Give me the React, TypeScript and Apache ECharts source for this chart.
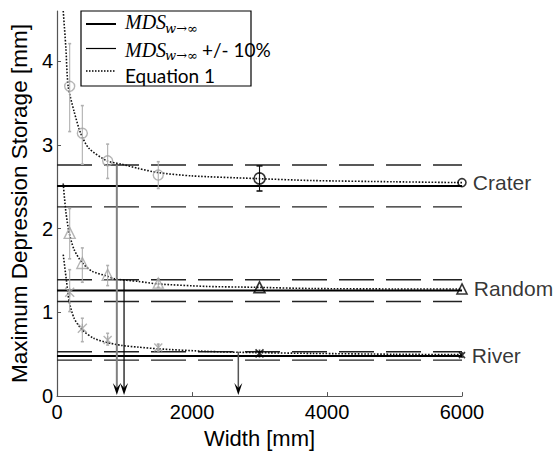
import React, { useEffect, useRef } from "react";
import * as echarts from "echarts";

// ---- data ----
const widths = [187.5, 375, 750, 1500, 3000, 6000];

const craterMean = [3.7, 3.14, 2.81, 2.64, 2.6, 2.55];
const craterLow = [3.16, 2.77, 2.6, 2.48, 2.45, null];
const craterHigh = [4.21, 3.47, 3.01, 2.8, 2.75, null];

const randomMean = [1.95, 1.59, 1.45, 1.35, 1.3, 1.28];
const randomLow = [1.64, 1.36, 1.32, 1.3, null, null];
const randomHigh = [2.24, 1.77, 1.56, 1.4, null, null];

const riverMean = [1.24, 0.81, 0.67, 0.58, 0.51, 0.49];
const riverLow = [1.01, 0.65, 0.61, 0.54, null, null];
const riverHigh = [1.51, 0.93, 0.75, 0.62, null, null];

const groupNames = ["Crater", "Random", "River"];
const mdsInf = [2.51, 1.26, 0.48];
const mdsUpper = [2.76, 1.39, 0.53];
const mdsLower = [2.26, 1.13, 0.43];

// Equation 1 curves
const craterCurveW = [92, 131, 165, 253, 350, 472, 740, 959, 1202, 1494, 2000, 2905, 3781, 5000, 6000];
const craterCurveV = [4.6, 4.16, 3.7, 3.4, 3.14, 2.96, 2.81, 2.77, 2.72, 2.67, 2.63, 2.6, 2.575, 2.56, 2.55];
const randomCurveW = [92, 131, 180, 253, 375, 521, 715, 861, 1202, 1494, 2224, 2905, 3781, 5000, 6000];
const randomCurveV = [2.54, 2.2, 1.95, 1.75, 1.59, 1.49, 1.44, 1.4, 1.37, 1.34, 1.31, 1.3, 1.285, 1.28, 1.28];
const riverCurveW = [92, 141, 180, 253, 375, 545, 740, 959, 1202, 1494, 2224, 2905, 3781, 5000, 6000];
const riverCurveV = [1.69, 1.37, 1.13, 0.93, 0.79, 0.69, 0.64, 0.605, 0.585, 0.565, 0.534, 0.52, 0.51, 0.5, 0.495];

// arrows: width where curve meets the +10% line
const arrowWidths = [886, 993, 2686];
const arrowTops = [2.76, 1.39, 0.53];

const xRange = [0, 6000];
const xTicks = [0, 2000, 4000, 6000];
const yTicks = [0, 1, 2, 3, 4];
const yMax = 4.6;

// ---- styles ----
const FONT = "'Liberation Sans', Arial, sans-serif";
const GRAY = "#a3a3a3";
const DARK = "#000";
const darkFrom = 4;
const arrowColors = ["#808080", "#000", "#555"];
const arrowWidthsPx = [2, 1.2, 1.5];

function pts(xs: number[], ys: number[]) {
  return xs.map((x, i) => [x, ys[i]]);
}

function markerData(means: number[], sizes: number[]) {
  return widths.map((w, i) => ({
    value: [w, means[i]],
    symbolSize: sizes[i],
    itemStyle: {
      color: "transparent",
      borderColor: i >= darkFrom ? DARK : GRAY,
      borderWidth: i >= darkFrom ? 1.6 : 1.4,
    },
  }));
}

function errData(low: (number | null)[], high: (number | null)[]) {
  const out: number[][] = [];
  widths.forEach((w, i) => {
    if (low[i] != null && high[i] != null) out.push([w, low[i] as number, high[i] as number, i]);
  });
  return out;
}

const errRender = (params: any, api: any) => {
  const x = api.value(0);
  const lo = api.value(1);
  const hi = api.value(2);
  const idx = api.value(3);
  const a = api.coord([x, lo]);
  const b = api.coord([x, hi]);
  const dark = idx >= darkFrom;
  const c = dark ? "#111" : "#b0b0b0";
  const cw = dark ? 3 : 1.5;
  return {
    type: "group",
    children: [
      { type: "line", shape: { x1: a[0], y1: a[1], x2: b[0], y2: b[1] }, style: { stroke: c, lineWidth: 1.1 } },
      { type: "line", shape: { x1: a[0] - cw, y1: a[1], x2: a[0] + cw, y2: a[1] }, style: { stroke: c, lineWidth: 1.6 } },
      { type: "line", shape: { x1: b[0] - cw, y1: b[1], x2: b[0] + cw, y2: b[1] }, style: { stroke: c, lineWidth: 1.6 } },
    ],
  };
};

const arrowRender = (params: any, api: any) => {
  const x = api.value(0);
  const top = api.value(1);
  const p0 = api.coord([x, top]);
  const p1 = api.coord([x, 0]);
  const i = params.dataIndex;
  return {
    type: "group",
    children: [
      {
        type: "line",
        shape: { x1: p0[0], y1: p0[1], x2: p1[0], y2: p1[1] - 6 },
        style: { stroke: arrowColors[i], lineWidth: arrowWidthsPx[i] },
      },
      {
        type: "polygon",
        shape: {
          points: [
            [p1[0], p1[1] - 1],
            [p1[0] - 4, p1[1] - 13],
            [p1[0], p1[1] - 8],
            [p1[0] + 4, p1[1] - 13],
          ],
        },
        style: { fill: "#000" },
      },
    ],
  };
};

const asterisk = "path://M0,0L10,10M10,0L0,10M5,0L5,10";

export default function App() {
  const ref = useRef<HTMLDivElement>(null);
  useEffect(() => {
    if (!ref.current) return;
    const chart = echarts.init(ref.current, null, { renderer: "svg" });

    const hLines: any[] = [];
    groupNames.forEach((g, k) => {
      hLines.push({
        type: "line",
        data: xRange.map((x) => [x, mdsInf[k]]),
        symbol: "none",
        lineStyle: { color: "#000", width: 2 },
        z: 2,
        silent: true,
      });
      [mdsUpper[k], mdsLower[k]].forEach((v) => {
        hLines.push({
          type: "line",
          data: xRange.map((x) => [x, v]),
          symbol: "none",
          lineStyle: { color: "#222", width: 1.4, type: [35, 12] },
          z: 2,
          silent: true,
        });
      });
    });

    const curve = (xs: number[], ys: number[]) => ({
      type: "line",
      data: pts(xs, ys),
      symbol: "none",
      smooth: 0.25,
      lineStyle: { color: "#111", width: 1.6, type: "dotted" },
      z: 4,
      silent: true,
    });

    const labelStyle = (name: string) => ({
      show: true,
      position: "right",
      distance: 6,
      formatter: (p: any) => (p.dataIndex === widths.length - 1 ? name : ""),
      color: "#000",
      fontSize: 21,
      fontFamily: FONT,
    });

    const option: any = {
      animation: false,
      backgroundColor: "#fff",
      textStyle: { fontFamily: FONT },
      grid: { left: 51, right: 96, top: 11, bottom: 56 },
      xAxis: {
        type: "value",
        min: xRange[0],
        max: xRange[1],
        interval: 2000,
        name: "Width [mm]",
        nameLocation: "middle",
        nameGap: 29,
        nameTextStyle: { color: "#000", fontSize: 22, fontFamily: FONT },
        axisLine: { show: true, lineStyle: { color: "#555", width: 1.2 } },
        axisTick: { show: true, inside: true, length: 4, lineStyle: { color: "#555" }, customValues: xTicks },
        axisLabel: {
          color: "#000",
          fontSize: 20,
          margin: 6,
          fontFamily: FONT,
          customValues: xTicks,
          formatter: (v: number) => String(v),
        },
        splitLine: { show: false },
      },
      yAxis: {
        type: "value",
        min: 0,
        max: yMax,
        name: "Maximum Depression Storage [mm]",
        nameLocation: "middle",
        nameGap: 24,
        nameTextStyle: { color: "#000", fontSize: 22.5, fontFamily: FONT },
        axisLine: { show: true, lineStyle: { color: "#555", width: 1.2 } },
        axisTick: { show: true, inside: true, length: 4, lineStyle: { color: "#555" }, customValues: yTicks },
        axisLabel: {
          color: "#000",
          fontSize: 20,
          margin: 4,
          fontFamily: FONT,
          customValues: yTicks,
          formatter: (v: number) => String(v),
        },
        splitLine: { show: false },
      },
      series: [
        ...hLines,
        curve(craterCurveW, craterCurveV),
        curve(randomCurveW, randomCurveV),
        curve(riverCurveW, riverCurveV),
        {
          type: "custom",
          renderItem: errRender,
          data: [...errData(craterLow, craterHigh), ...errData(randomLow, randomHigh), ...errData(riverLow, riverHigh)],
          encode: { x: 0, y: [1, 2] },
          z: 5,
          silent: true,
        },
        {
          type: "scatter",
          data: markerData(craterMean, [10, 10, 10, 10, 11, 8]),
          symbol: "circle",
          label: labelStyle(groupNames[0]),
          z: 6,
          silent: true,
        },
        {
          type: "scatter",
          data: markerData(randomMean, [11, 11, 11, 10, 11, 10]),
          symbol: "triangle",
          label: labelStyle(groupNames[1]),
          z: 6,
          silent: true,
        },
        {
          type: "scatter",
          data: markerData(riverMean, [9, 9, 8, 8, 8, 6]),
          symbol: asterisk,
          label: labelStyle(groupNames[2]),
          z: 6,
          silent: true,
        },
        {
          type: "custom",
          renderItem: arrowRender,
          data: arrowWidths.map((w, i) => [w, arrowTops[i]]),
          encode: { x: 0, y: 1 },
          z: 7,
          silent: true,
        },
      ],
      graphic: [
        {
          type: "group",
          z: 100,
          children: [
            { type: "rect", shape: { x: 81, y: 11, width: 170, height: 75 }, style: { fill: "#fff", stroke: "#000", lineWidth: 1.2 } },
            { type: "line", shape: { x1: 86, y1: 24, x2: 116, y2: 24 }, style: { stroke: "#000", lineWidth: 2 } },
            { type: "line", shape: { x1: 86, y1: 48.5, x2: 116, y2: 48.5 }, style: { stroke: "#000", lineWidth: 1.2 } },
            { type: "line", shape: { x1: 86, y1: 71, x2: 116, y2: 71 }, style: { stroke: "#000", lineWidth: 1.5, lineDash: [1.5, 1.5] } },
            { type: "text", x: 125, y: 22, style: { text: "MDS", fill: "#000", font: "italic 20px 'Liberation Serif', serif", verticalAlign: "middle" } },
            { type: "text", x: 165, y: 28, style: { text: "w→∞", fill: "#000", font: "italic 13px 'DejaVu Serif', serif", verticalAlign: "middle" } },
            { type: "text", x: 125, y: 49.5, style: { text: "MDS", fill: "#000", font: "italic 20px 'Liberation Serif', serif", verticalAlign: "middle" } },
            { type: "text", x: 165, y: 55.5, style: { text: "w→∞", fill: "#000", font: "italic 13px 'DejaVu Serif', serif", verticalAlign: "middle" } },
            { type: "text", x: 202, y: 49.5, style: { text: "+/- 10%", fill: "#000", font: "19px Lato, sans-serif", verticalAlign: "middle" } },
            { type: "text", x: 125, y: 75.5, style: { text: "Equation 1", fill: "#000", font: "19px Lato, sans-serif", verticalAlign: "middle" } },
          ],
        },
      ],
    };

    chart.setOption(option);
    return () => chart.dispose();
  }, []);

  return (
    <div
      ref={ref}
      style={{ position: "fixed", left: 0, top: 0, width: 558, height: 454, background: "#fff" }}
    />
  );
}
